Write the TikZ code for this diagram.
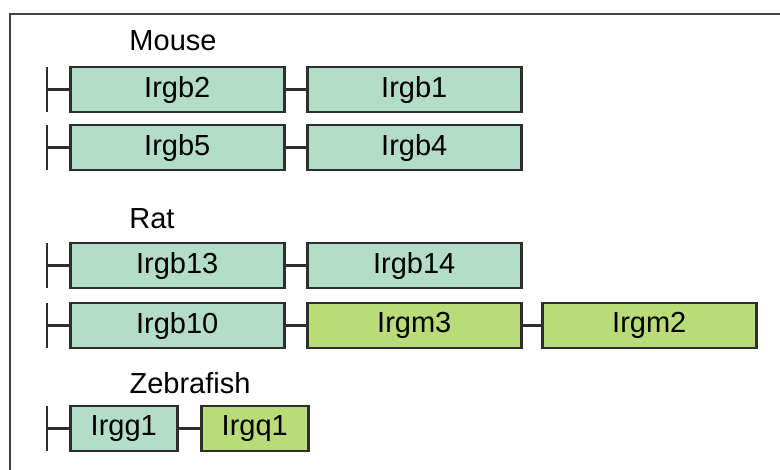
\documentclass[tikz,border=0pt]{standalone}
\usepackage{fontspec}
\setmainfont{Liberation Sans}
\usetikzlibrary{calc}
\definecolor{tealfill}{HTML}{B3DCC9}
\definecolor{greenfill}{HTML}{B9DB78}
\definecolor{edge}{HTML}{2E2E2E}
\definecolor{framec}{HTML}{444444}
\begin{document}
\begin{tikzpicture}[x=1pt,y=-1pt,
  gene/.style={draw=edge, line width=2.5pt, rectangle, anchor=north west, inner sep=0pt,
    minimum height=45pt, font=\fontsize{29}{32}\selectfont},
  teal/.style={gene, fill=tealfill},
  lime/.style={gene, fill=greenfill},
  species/.style={font=\fontsize{29}{32}\selectfont, inner sep=0pt},
  link/.style={draw=edge, line width=2.5pt}
]
\useasboundingbox (0,0) rectangle (780,470);
\draw[framec, line width=2.5pt] (10,472) -- (10,14) -- (782,14);

% Mouse
\node[species] (mouse) at (173,41) {Mouse};
\node[teal, minimum width=214pt] (irgb2) at (69,66) {Irgb2};
\node[teal, minimum width=214pt] (irgb1) at (306,66) {Irgb1};
\node[teal, minimum width=214pt] (irgb5) at (69,124) {Irgb5};
\node[teal, minimum width=214pt] (irgb4) at (306,124) {Irgb4};

% Rat
\node[species] (rat) at (152,219) {Rat};
\node[teal, minimum width=214pt] (irgb13) at (69,242) {Irgb13};
\node[teal, minimum width=214pt] (irgb14) at (306,242) {Irgb14};
\node[teal, minimum width=214pt] (irgb10) at (69,302) {Irgb10};
\node[lime, minimum width=214pt] (irgm3) at (306,302) {Irgm3};
\node[lime, minimum width=214pt] (irgm2) at (541,302) {Irgm2};

% Zebrafish
\node[species] (zebra) at (190,383) {Zebrafish};
\node[teal, minimum width=107pt] (irgg1) at (69,405) {Irgg1};
\node[lime, minimum width=107pt] (irgq1) at (200,405) {Irgq1};

% start ticks
\foreach \b in {irgb2, irgb5, irgb13, irgb10, irgg1} {
  \coordinate (s-\b) at ([xshift=-22pt]\b.west);
  \draw[link] ($(s-\b)+(0,-22.5)$) -- ($(s-\b)+(0,22.5)$);
  \draw[link] (s-\b) -- (\b.west);
}

% links between genes
\draw[link] (irgb2.east) -- (irgb1.west);
\draw[link] (irgb5.east) -- (irgb4.west);
\draw[link] (irgb13.east) -- (irgb14.west);
\draw[link] (irgb10.east) -- (irgm3.west);
\draw[link] (irgm3.east) -- (irgm2.west);
\draw[link] (irgg1.east) -- (irgq1.west);
\end{tikzpicture}
\end{document}
